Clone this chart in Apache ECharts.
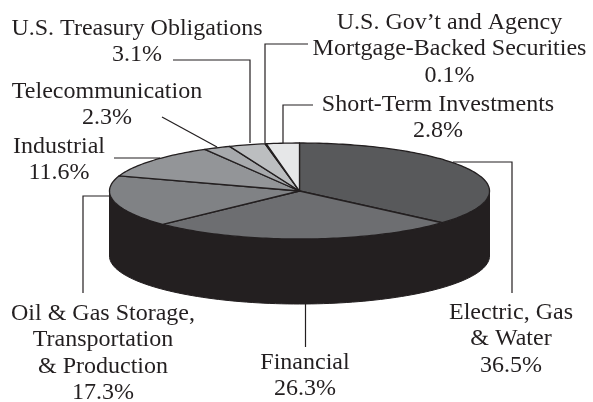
<!DOCTYPE html>
<html>
<head>
<meta charset="utf-8">
<style>
  html, body { margin: 0; background: #fff; }
  #main { width: 593px; height: 402px; }
</style>
<script src="https://cdn.jsdelivr.net/npm/echarts@6/dist/echarts.min.js"></script>
</head>
<body>
<div id="main"></div>
<script>
const sectors = ["Electric, Gas\n& Water", "Financial", "Oil & Gas Storage,\nTransportation\n& Production", "Industrial", "Telecommunication", "U.S. Treasury Obligations", "U.S. Gov\u2019t and Agency\nMortgage-Backed Securities", "Short-Term Investments"];
const percents = [36.5, 26.3, 17.3, 11.6, 2.3, 3.1, 0.1, 2.8];
const sliceColors = ["#58595b", "#6d6e71", "#808285", "#939598", "#a7a9ac", "#bcbec0", "#231f20", "#e6e7e8"];

// label anchor (centre x, top y) and leader line for each sector
const labelPos = [[511, 299], [305, 349], [103, 300], [59, 133], [107, 78], [137, 15], [449.5, 9], [438, 91]];
const leaders = [
  [[453, 162], [512, 162], [512, 293]],
  [[305.5, 304], [305.5, 347]],
  [[109, 196], [83, 196], [83, 293]],
  [[160, 158], [114, 158]],
  [[217, 147], [162, 117]],
  [[250, 143], [250, 60], [173, 60]],
  [[265, 143], [265, 44], [308, 44]],
  [[283, 143], [283, 105], [313, 105]]
];

const cx = 299.5, cy = 191, rx = 190, ry = 48, depth = 65;
const ink = "#231f20";
const font = '24px "Liberation Serif"';

function rim(pct) {
  const a = pct / 100 * 2 * Math.PI;
  return [cx + rx * Math.sin(a), cy - ry * Math.cos(a)];
}

let sum = 0;
const sliceData = percents.map(function (p) {
  const row = [sum, p];
  sum += p;
  return row;
});

function renderSlice(params, api) {
  const start = api.value(0), size = api.value(1);
  const pts = [[cx, cy]];
  const steps = Math.max(2, Math.ceil(size * 3));
  for (let i = 0; i <= steps; i++) {
    pts.push(rim(start + size * i / steps));
  }
  return {
    type: "polygon",
    shape: { points: pts },
    style: { fill: sliceColors[params.dataIndex], stroke: ink, lineWidth: 1.3, lineJoin: "round" }
  };
}

function renderWall() {
  // front half of the rim, pushed down by the depth of the pie
  const pts = [];
  for (let p = 25; p <= 75; p += 0.5) pts.push(rim(p));
  for (let p = 75; p >= 25; p -= 0.5) {
    const q = rim(p);
    pts.push([q[0], q[1] + depth]);
  }
  return {
    type: "polygon",
    shape: { points: pts },
    style: { fill: ink, stroke: ink, lineWidth: 1 }
  };
}

const graphics = [];
leaders.forEach(function (pts) {
  graphics.push({
    type: "polyline",
    shape: { points: pts },
    style: { fill: null, stroke: ink, lineWidth: 1.2 },
    z: 5
  });
});
sectors.forEach(function (name, i) {
  graphics.push({
    type: "text",
    x: labelPos[i][0],
    y: labelPos[i][1],
    style: {
      text: name + "\n" + percents[i].toFixed(1) + "%",
      font: font,
      lineHeight: 26.5,
      fill: ink,
      align: "center",
      verticalAlign: "top"
    },
    z: 6
  });
});

const chart = echarts.init(document.getElementById("main"), null, { renderer: "canvas" });
chart.setOption({
  animation: false,
  backgroundColor: "#ffffff",
  graphic: graphics,
  series: [
    { type: "custom", coordinateSystem: "none", renderItem: renderWall, data: [[100]], z: 1, silent: true },
    { type: "custom", coordinateSystem: "none", renderItem: renderSlice, data: sliceData, z: 2, silent: true }
  ]
});
</script>
</body>
</html>
